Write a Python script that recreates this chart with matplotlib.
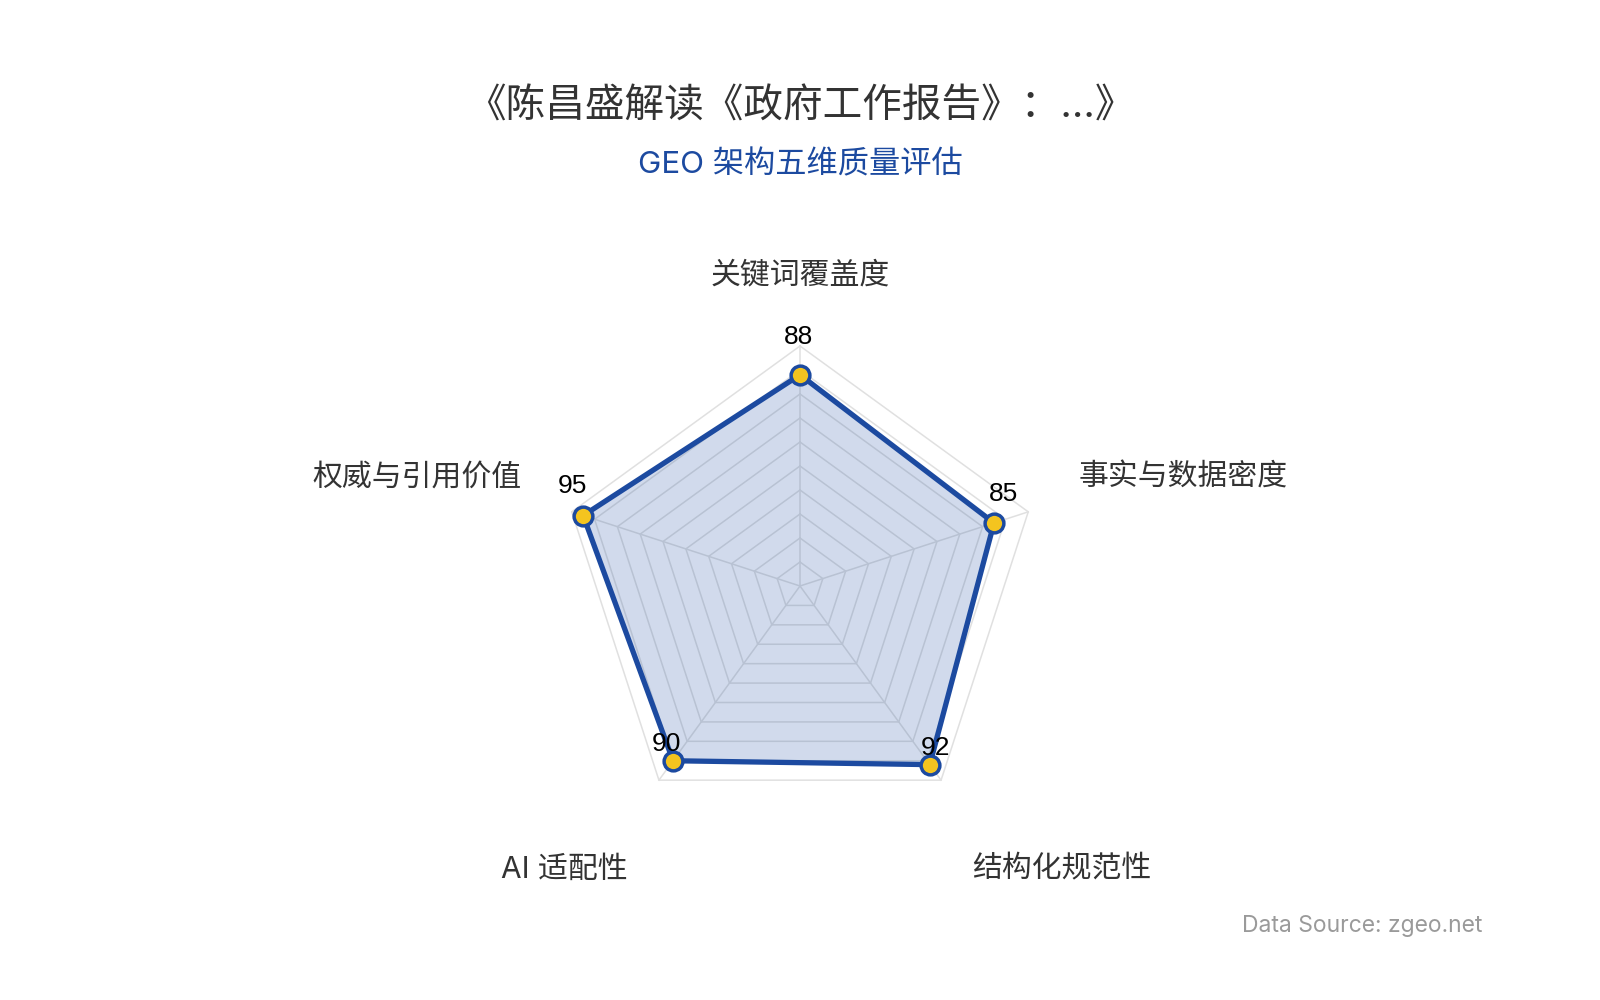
import numpy as np
import matplotlib
matplotlib.use("Agg")
import matplotlib.pyplot as plt

plt.rcParams['font.family'] = ['Inter', 'Noto Sans CJK SC', 'DejaVu Sans']

TITLE = "《陈昌盛解读《政府工作报告》：...》"
SUBTITLE = "GEO 架构五维质量评估"
SOURCE = "Data Source: zgeo.net"

DIMENSIONS = ["关键词覆盖度", "事实与数据密度", "结构化规范性", "AI 适配性", "权威与引用价值"]
SCORES = [88, 85, 92, 90, 95]
MAX_SCORE = 100
RINGS = np.arange(10, 101, 10)

BLUE = "#1c4aa0"
YELLOW = "#f4c41f"
GRID = "#e0e0e0"

# offsets of the value labels from the markers (points)
VALUE_DX = [0, 8, 5, -4, -7]
VALUE_DY = [27, 21, 12, 12, 21]

n = len(DIMENSIONS)
angles = np.arange(n) * 2 * np.pi / n  # clockwise from north


def xy(r, a):
    return r * np.sin(a), r * np.cos(a)


fig = plt.figure(figsize=(16, 10), dpi=100)
ax = fig.add_axes([0.245, 0.006, 0.51, 0.816])
ax.set_xlim(-170, 170)
ax.set_ylim(-170, 170)
ax.set_aspect("equal")
ax.axis("off")

# pentagon grid
closed = np.append(angles, angles[0])
for r in RINGS:
    gx, gy = xy(r, closed)
    ax.plot(gx, gy, color=GRID, lw=1.1, zorder=1)
for a in angles:
    sx, sy = xy(np.array([0, MAX_SCORE]), a)
    ax.plot(sx, sy, color=GRID, lw=1.1, zorder=1)

# data polygon
vals = np.append(SCORES, SCORES[0])
px, py = xy(vals, closed)
ax.fill(px, py, color=BLUE, alpha=0.2, lw=0, zorder=2)
ax.plot(px, py, color=BLUE, lw=3.8, zorder=3, solid_joinstyle="round")
mx, my = xy(np.array(SCORES), angles)
ax.plot(mx, my, "o", ms=13.5, mfc=YELLOW, mec=BLUE, mew=2.5, zorder=4)

for x, y, v, dx, dy in zip(mx, my, SCORES, VALUE_DX, VALUE_DY):
    ax.annotate(str(v), (x, y), xytext=(dx - 1, dy), textcoords="offset points",
                ha="center", va="center", fontsize=19, color="black",
                family=["Liberation Sans", "DejaVu Sans"], zorder=5)

# dimension names
for name, a in zip(DIMENSIONS, angles):
    s, c = np.sin(a), np.cos(a)
    if abs(s) < 1e-6:
        tx, ty, ha = 0, 129.6, "center"
    else:
        tx, ty = 122 * s, 146 * c
        ha = "left" if s > 0 else "right"
    ax.text(tx, ty, name, ha=ha, va="center", fontsize=21.5, color="#333333")

fig.text(0.5, 1 - 107 / 1000, TITLE, ha="center", va="center",
         fontsize=28.5, color="#333333")
fig.text(0.5, 1 - 165 / 1000, SUBTITLE, ha="center", va="center",
         fontsize=22.5, color=BLUE)
fig.text(1482 / 1600, 1 - 926 / 1000, SOURCE, ha="right", va="center",
         fontsize=16.5, color="#9a9a9a")

fig.savefig("out.png", dpi=100, facecolor="white")
